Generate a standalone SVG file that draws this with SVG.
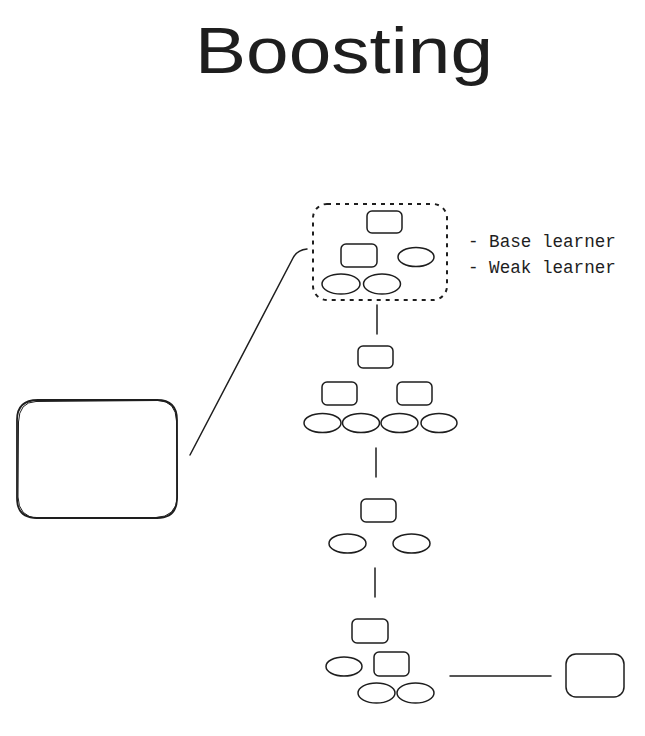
<svg xmlns="http://www.w3.org/2000/svg" width="645" height="736" viewBox="0 0 645 736">
<style>
.s{fill:none;stroke:#1e1e1e;stroke-width:1.5;stroke-linecap:round;stroke-linejoin:round}
.t{font-family:"Liberation Mono","DejaVu Sans Mono",monospace;font-size:17.6px;fill:#1e1e1e}
</style>
<rect width="645" height="736" fill="#ffffff"/>
<text id="title" x="195" y="73" font-family="'Liberation Sans',Arial,sans-serif" font-size="64" fill="#1e1e1e" textLength="298" lengthAdjust="spacingAndGlyphs">Boosting</text>
<g id="connectors">
<path class="s" d="M307 249 Q297 250 293 258 L190 455"/>
<line class="s" x1="377" y1="305" x2="377" y2="334"/>
<line class="s" x1="376" y1="448" x2="376" y2="477"/>
<line class="s" x1="375" y1="568" x2="375" y2="597"/>
<line class="s" x1="450" y1="676" x2="551" y2="676"/>
</g>
<g id="base-learner">
<rect x="313" y="204" width="134" height="96" rx="14" fill="none" stroke="#1e1e1e" stroke-width="2" stroke-dasharray="4 5"/>
<rect class="s" x="367" y="211" width="35" height="22" rx="5"/>
<rect class="s" x="341" y="244" width="36" height="23" rx="5"/>
<ellipse class="s" cx="416" cy="257" rx="18" ry="9.5"/>
<ellipse class="s" cx="341" cy="284" rx="19" ry="10"/>
<ellipse class="s" cx="382" cy="284" rx="18.5" ry="10"/>
</g>
<g id="label">
<text class="t" x="468" y="247">- Base learner</text>
<text class="t" x="468" y="273">- Weak learner</text>
</g>
<g id="tree2">
<rect class="s" x="358" y="346" width="35" height="22" rx="5"/>
<rect class="s" x="322" y="382" width="35" height="23" rx="5"/>
<rect class="s" x="397" y="382" width="35" height="23" rx="5"/>
<ellipse class="s" cx="322.5" cy="423" rx="18.5" ry="9.5"/>
<ellipse class="s" cx="361" cy="423" rx="18.5" ry="9.5"/>
<ellipse class="s" cx="399.5" cy="423" rx="18.5" ry="9.5"/>
<ellipse class="s" cx="439" cy="423" rx="18" ry="9.5"/>
</g>
<g id="data">
<path fill="none" stroke="#1e1e1e" stroke-width="1.8" d="M38 400 L157 400 Q177 400 177 420 L177 498 Q177 518 157 518 L37 518 Q17 518 17 498 L17 420 Q17 400 38 400 Z"/>
<path fill="none" stroke="#1e1e1e" stroke-width="1" d="M36 401.5 L158 400.5 Q176 401 176.5 421 L177.5 497 Q176 517 156 517.5 L38 518.5 Q18.5 517 18 497 L18.5 422 Q19 402 36 401.5"/>
</g>
<g id="tree3">
<rect class="s" x="361" y="499" width="35" height="23" rx="5"/>
<ellipse class="s" cx="347.5" cy="543.5" rx="18.5" ry="9.5"/>
<ellipse class="s" cx="411.5" cy="543.5" rx="18.5" ry="9.5"/>
</g>
<g id="tree4">
<rect class="s" x="352" y="619" width="36" height="24" rx="5"/>
<ellipse class="s" cx="344" cy="666.5" rx="18" ry="9.5"/>
<rect class="s" x="374" y="652" width="35" height="24" rx="5"/>
<ellipse class="s" cx="376.5" cy="693" rx="18.5" ry="10"/>
<ellipse class="s" cx="415.5" cy="693" rx="18.5" ry="10"/>
</g>
<g id="result">
<rect class="s" x="566" y="654" width="58" height="43" rx="10"/>
</g>
</svg>
